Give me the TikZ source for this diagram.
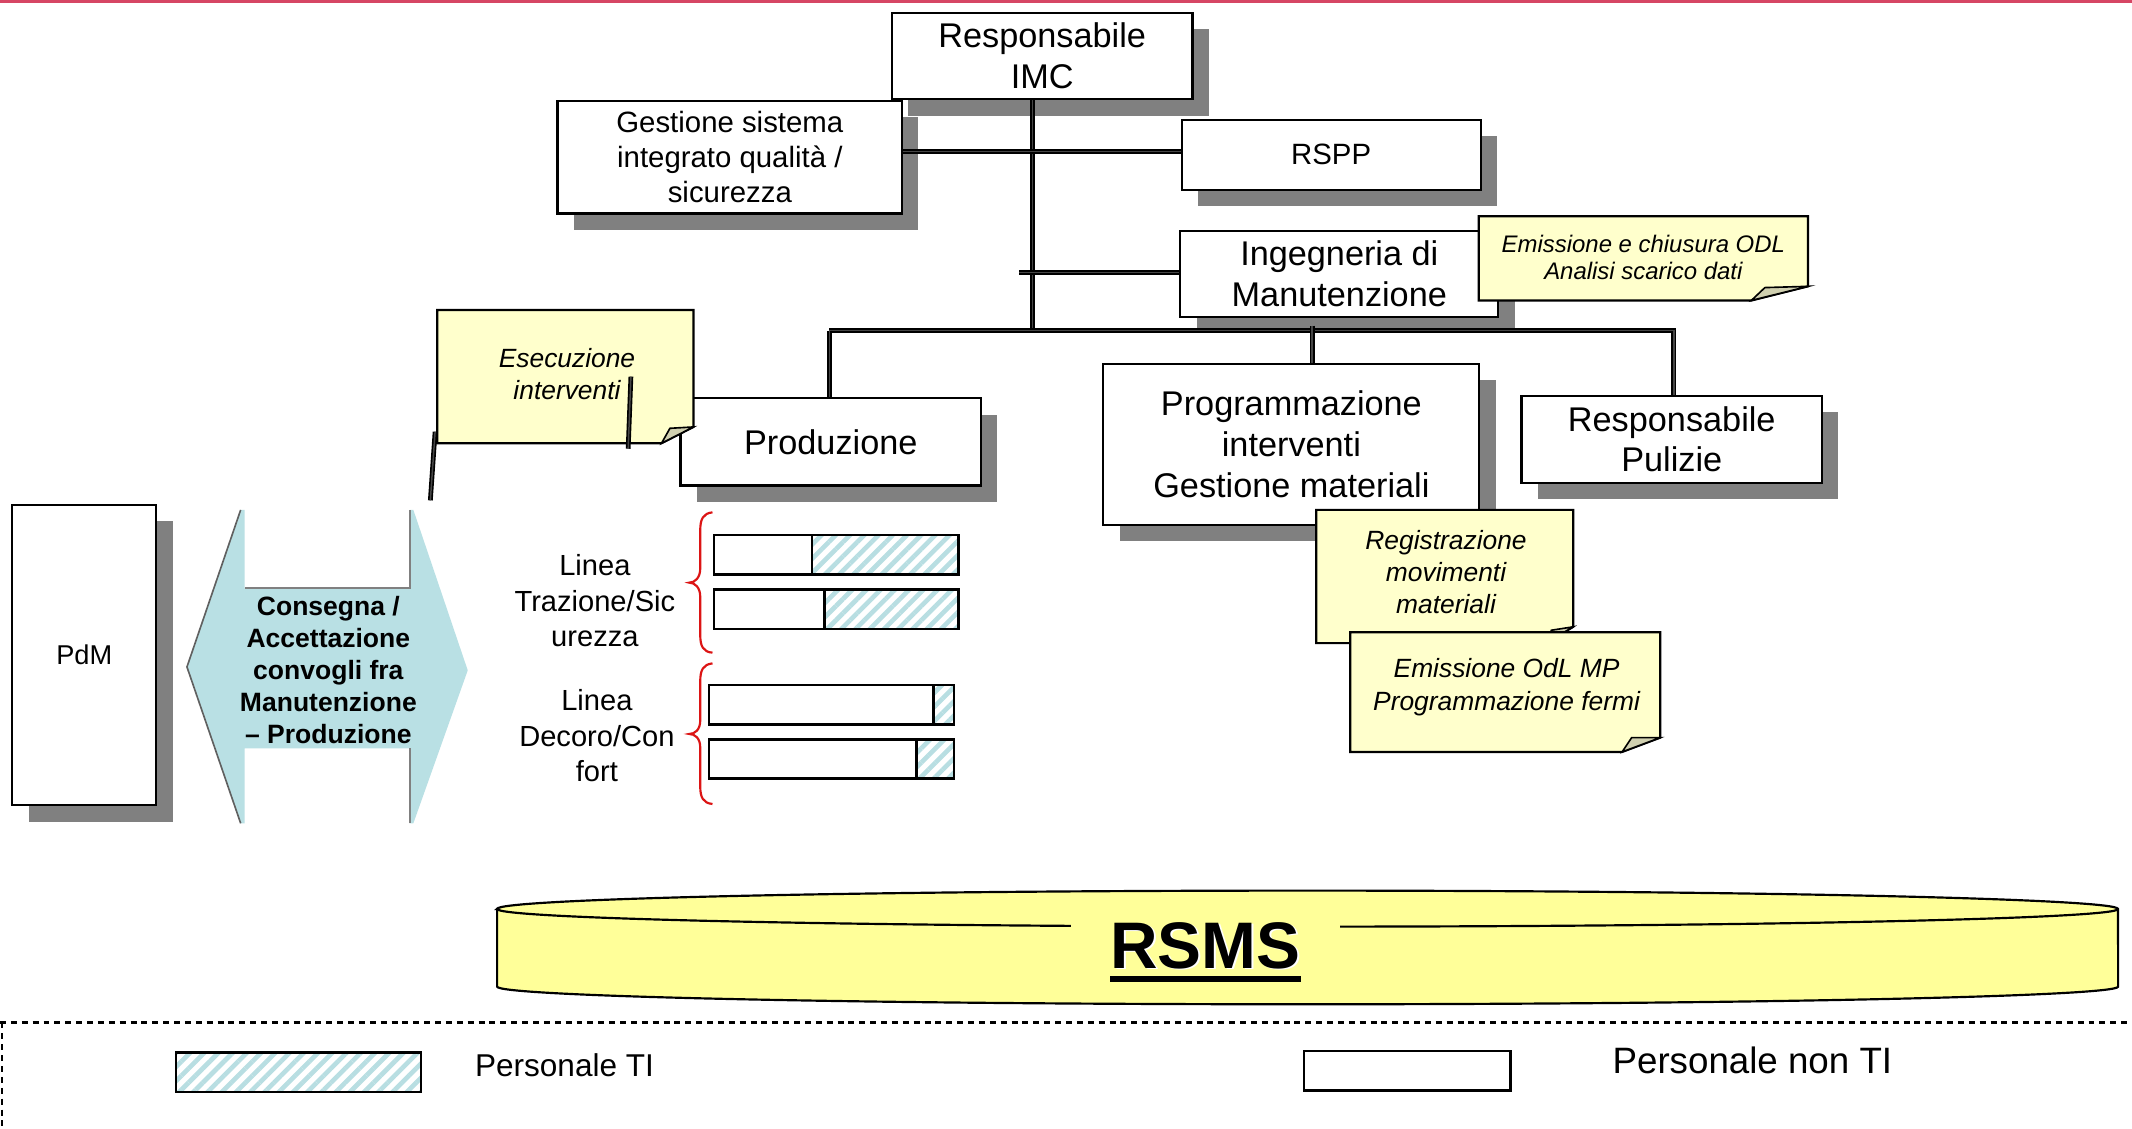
\documentclass[tikz,border=0pt]{standalone}
\usepackage{fontspec}
\setmainfont{Liberation Sans}
\usetikzlibrary{shadows,patterns.meta}
\definecolor{shadowgray}{RGB}{128,128,128}
\definecolor{notefill}{RGB}{255,255,204}
\definecolor{foldfill}{RGB}{208,208,176}
\definecolor{arrowblue}{RGB}{185,224,228}
\definecolor{hatchc}{RGB}{184,222,226}
\definecolor{cylfill}{RGB}{255,255,153}
\definecolor{topred}{RGB}{214,70,100}
\definecolor{bracered}{RGB}{220,20,20}
\begin{document}
\begin{tikzpicture}[x=0.5pt,y=-0.5pt,
  box/.style={draw,line width=0.8pt,fill=white,align=center,inner sep=0pt,
    general shadow={fill=shadowgray,shadow xshift=6pt,shadow yshift=-6pt}},
  mainf/.style={font=\fontsize{12.6}{15}\selectfont},
  midf/.style={font=\fontsize{10.8}{13}\selectfont},
  notef/.style={font=\fontsize{9.7}{11.75}\selectfont\itshape,align=center,inner sep=0pt},
  note/.style={draw,line width=0.8pt,fill=notefill},
  fold/.style={draw,line width=0.6pt,fill=foldfill},
  conn/.style={line width=0.6pt,double=gray!55!black,double distance=0.55pt},
  barline/.style={draw,line width=0.9pt},
  hatch/.style={pattern={Lines[angle=45,distance=3.7pt,line width=1.7pt]},pattern color=hatchc},
  brace/.style={draw=bracered,line width=0.8pt},
]
\useasboundingbox (0,0) rectangle (1568,830.3);
\fill[white] (0,0) rectangle (1568,830.3);
\draw[topred,line width=1pt] (0,1) -- (1568,1);

% ---------- org boxes ----------
\node[box,mainf,minimum width=110.5pt,minimum height=31.75pt] (imc) at (766.5,41.25) {Responsabile\\IMC};
\node[box,midf,minimum width=126.75pt,minimum height=41.5pt] (gest) at (536.75,115.5) {Gestione sistema\\integrato qualità /\\sicurezza};
\node[box,midf,minimum width=110pt,minimum height=25.75pt] (rspp) at (979,113.75) {RSPP};
\node[box,mainf,minimum width=117pt,minimum height=31.5pt] (ing) at (985,201.5) {Ingegneria di\\Manutenzione};
\node[box,mainf,minimum width=110.5pt,minimum height=32pt] (prod) at (611,325) {Produzione};
\node[box,mainf,minimum width=138.25pt,minimum height=59.15pt] (prog) at (949.75,326.85) {Programmazione\\interventi\\Gestione materiali};
\node[box,mainf,minimum width=110.5pt,minimum height=32pt] (pul) at (1229.5,323) {Responsabile\\Pulizie};
\node[box,font=\fontsize{10}{12}\selectfont,minimum width=53pt,minimum height=110.5pt] (pdm) at (62,481.7) {PdM};

% ---------- connectors ----------
\coordinate (bus1) at (759.5,243.2);
\coordinate (grline) at (0,111.5);
\coordinate (ingL) at (749.5,200.5);
\coordinate (busL) at (610,243.2);
\coordinate (busR) at (1231,243.2);
\coordinate (progtop) at (965,239.5);
\draw[conn] (bus1 |- imc.south) -- (bus1);
\draw[conn] (gest.east |- grline) -- (rspp.west |- grline);
\draw[conn] (ingL) -- (ing.west |- ingL);
\draw[conn] (busL) -- (busR) -- (busR |- pul.north);
\draw[conn] (busL) -- (busL |- prod.north);
\draw[conn] (progtop) -- (progtop |- prog.north);

% ---------- notes ----------
\draw[note] (321.6,228) -- (510,228) -- (510,314) -- (486.5,326) -- (321.6,326) -- cycle;
\draw[fold] (486.5,326) -- (492.7,315) -- (510,314) -- cycle;
\node[notef] (esec) at (417,275) {Esecuzione\\interventi};
\coordinate (e1a) at (464,277); \coordinate (e1b) at (462,330);
\coordinate (e2a) at (320,317.5); \coordinate (e2b) at (316.5,368);
\draw[conn] (e1a) -- (e1b);
\draw[conn] (e2a) -- (e2b);

\draw[note] (1087.5,159) -- (1329.7,159) -- (1329.7,210.6) -- (1288,221) -- (1087.5,221) -- cycle;
\draw[fold] (1288,221) -- (1298,211.5) -- (1329.7,210.6) -- cycle;
\node[notef,font=\fontsize{8.8}{10}\selectfont\itshape] (emch) at (1208.6,189.5) {Emissione e chiusura ODL\\Analisi scarico dati};

\draw[note] (968,375) -- (1157,375) -- (1157,461) -- (1137,473) -- (968,473) -- cycle;
\draw[fold] (1137,473) -- (1141,463.5) -- (1157,461) -- cycle;
\node[notef] (regi) at (1063.5,420.5) {Registrazione\\movimenti\\materiali};

\draw[note] (993,465) -- (1221,465) -- (1221,542.5) -- (1193,553) -- (993,553) -- cycle;
\draw[fold] (1193,553) -- (1200,542.5) -- (1221,542.5) -- cycle;
\node[notef,font=\fontsize{9.7}{12}\selectfont\itshape] (emodl) at (1108,505.6) {Emissione OdL MP\\Programmazione fermi};

% ---------- double arrow ----------
\fill[arrowblue] (137.5,490.5) -- (177,375) -- (180,375) -- (180,432.7) -- (301.5,432.7) -- (301.5,375) -- (304,375) -- (344,493) -- (304,605.5) -- (301.5,605.5) -- (301.5,550.4) -- (180,550.4) -- (180,605.5) -- (177,605.5) -- cycle;
\draw[gray!75!black,line width=0.6pt] (177,375) -- (137.5,490.5) -- (177,605.5);
\draw[gray,line width=0.8pt] (180,432.7) -- (301.5,432.7) -- (301.5,375);
\draw[gray,line width=0.8pt] (301.5,605.5) -- (301.5,550.4);
\node[font=\fontsize{9.75}{11.75}\selectfont\bfseries,align=center,inner sep=0pt] (cons) at (241.5,493) {Consegna /\\Accettazione\\convogli fra\\Manutenzione\\– Produzione};

% ---------- lines and bars ----------
\node[midf,font=\fontsize{10.7}{13}\selectfont,align=center,inner sep=0pt] (lin1) at (437.5,441.8) {Linea\\Trazione/Sic\\urezza};
\node[midf,font=\fontsize{10.7}{13}\selectfont,align=center,inner sep=0pt] (lin2) at (439,541) {Linea\\Decoro/Con\\fort};

\draw[brace] (524,376.8) .. controls (517,377.5) and (515,382) .. (515,390) -- (515,418) .. controls (515,425) and (511,428.5) .. (507,428.5) .. controls (511,428.5) and (515,432) .. (515,439) -- (515,467) .. controls (515,475) and (517,479.5) .. (524,480);
\draw[brace] (524,487.9) .. controls (517,488.6) and (515,493) .. (515,501) -- (515,529.8) .. controls (515,536.8) and (511,539.8) .. (507,539.8) .. controls (511,539.8) and (515,542.8) .. (515,549.8) -- (515,578.3) .. controls (515,586.3) and (517,590.6) .. (524,591.3);

\fill[hatch] (597,393.5) rectangle (705,422.4);
\draw[barline] (525,393.5) rectangle (705,422.4) (597,393.5) -- (597,422.4);
\fill[hatch] (606.5,433.4) rectangle (705,462.6);
\draw[barline] (525,433.4) rectangle (705,462.6) (606.5,433.4) -- (606.5,462.6);
\fill[hatch] (686.5,503.8) rectangle (701.5,532.7);
\draw[barline] (521.5,503.8) rectangle (701.5,532.7) (686.5,503.8) -- (686.5,532.7);
\fill[hatch] (674,543.7) rectangle (701.5,572.4);
\draw[barline] (521.5,543.7) rectangle (701.5,572.4) (674,543.7) -- (674,572.4);

% ---------- RSMS cylinder ----------
\draw[fill=cylfill,line width=0.8pt] (365.6,668.5) -- (365.6,725.6)
  arc[start angle=180,end angle=360,x radius=298.05pt,y radius=6.5pt]
  -- (1557.7,668.5)
  arc[start angle=0,end angle=180,x radius=298.05pt,y radius=6.75pt] -- cycle;
\draw[line width=0.8pt] (365.6,668.5) arc[start angle=180,end angle=360,x radius=298.05pt,y radius=6.5pt];
\fill[cylfill] (787.5,674) rectangle (985.6,690);
\node[anchor=base,inner sep=0pt,text=white,font=\fontsize{24.2}{28}\selectfont\bfseries] (rsmssh) at (888,713) {RSMS};
\node[anchor=base,inner sep=0pt,font=\fontsize{24.2}{28}\selectfont\bfseries] (rsms) at (886.6,712) {\setbox0\hbox{RSMS}\rlap{\rule[-5pt]{\wd0}{2.25pt}}\box0};

% ---------- legend ----------
\draw[line width=0.8pt,dash pattern=on 2.2pt off 1.8pt] (0,752) -- (1568,752);
\draw[line width=0.8pt,dash pattern=on 2.2pt off 1.8pt] (1.2,752) -- (1.2,830.3);
\fill[hatch] (129.5,774.2) rectangle (309.6,803.3);
\draw[barline] (129.5,774.2) rectangle (309.6,803.3);
\node[anchor=base west,inner sep=0pt,font=\fontsize{11.6}{14}\selectfont] (legti) at (349,792) {Personale TI};
\draw[barline] (959,773) rectangle (1111,802);
\node[anchor=base west,inner sep=0pt,font=\fontsize{13.5}{16}\selectfont] (legnon) at (1185.6,789.4) {Personale non TI};
\end{tikzpicture}
\end{document}
